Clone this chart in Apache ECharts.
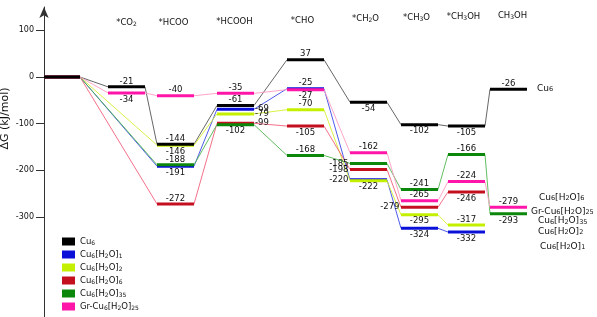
<!DOCTYPE html>
<html><head><meta charset="utf-8">
<script src="https://cdn.jsdelivr.net/npm/echarts@6/dist/echarts.min.js"></script>
<style>html,body{margin:0;padding:0;background:#fff}#c{width:597px;height:317px}</style>
</head><body><div id="c"></div>
<script>
// ---------- data ----------
const stepNames = ['', '*CO2', '*HCOO', '*HCOOH', '*CHO', '*CH2O', '*CH3O', '*CH3OH', 'CH3OH'];
const seriesNames = ['Cu6', 'Cu6[H2O]1', 'Cu6[H2O]2', 'Cu6[H2O]6', 'Cu6[H2O]35', 'Gr-Cu6[H2O]25'];
const cu6        = [0, -21, -144, -61,  37,  -54, -102, -105,  -26];
const cu6H2O1    = [0, null, -191, -69, -25, -220, -324, -332, null];
const cu6H2O2    = [0, null, -146, -79, -70, -222, -295, -317, null];
const cu6H2O6    = [0, null, -272, -99, -105, -198, -279, -246, null];
const cu6H2O35   = [0, null, -188, -102, -168, -185, -241, -166, -293];
const grCu6H2O25 = [0, -34, -40, -35, -27, -162, -265, -224, -279];
const yTickValues = [100, 0, -100, -200, -300];
const values = [cu6, cu6H2O1, cu6H2O2, cu6H2O6, cu6H2O35, grCu6H2O25];

// ---------- layout / style ----------
const FONT = 'DejaVu Sans';
const stepStart = [0, 64, 113, 173, 243, 306, 357, 404, 446];
const stepLen   = [36, 37, 37, 37, 37, 37, 37, 37, 37];
const titleY  = [0, 23, 23, 22, 21, 19, 18, 17, 16];
const titleDx = [0, 0, -2, -1, -3, -3, -3, -3, 4];
const barColors  = ['#000000', '#0a10d8', '#c4f000', '#c40f1e', '#0b880b', '#ff16a8'];
const linkColors = ['#555555', '#3a48e8', '#d6ef30', '#f2607c', '#4fb54f', '#ff9cc2'];
const labelPos = [
  ['', 't', 't', 't', 't', 'b', 'b', 'b', 't'],
  ['', '',  'b', 'r', 't', 'l', 'b', 'b', ''],
  ['', '',  'b', 'r', 't', 'b', 'b', 't', ''],
  ['', '',  't', 'r', 'b', 'l', 'l', 'b', ''],
  ['', '',  't', 'b', 't', 'l', 't', 't', 'b'],
  ['', 'b', 't', 't', 'b', 't', 't', 't', 't']
];
const rightLabels = [
  [0, 537, 88.5], [3, 539, 197.5], [5, 531, 211.7], [4, 538, 221], [2, 538, 231.7], [1, 540, 246.7]
];

function sub(s) { return s.replace(/([A-Za-z\]])(\d+)/g, '$1{s|$2}'); }
function richFor(fs, sfs) {
  return { s: { fontSize: sfs, fontFamily: FONT, fill: '#111', color: '#111', verticalAlign: 'bottom', lineHeight: Math.round(fs * 0.55) } };
}

const chart = echarts.init(document.getElementById('c'), null, { renderer: 'canvas' });
const series = [];

values.forEach((vals, si) => {
  const pts = [];
  vals.forEach((v, i) => { if (v !== null) { pts.push([stepStart[i], v]); pts.push([stepStart[i] + stepLen[i], v]); } });
  series.push({
    type: 'line', name: 'link' + si, data: pts, symbol: 'none', silent: true, z: 2,
    lineStyle: { color: linkColors[si], width: 0.9 }
  });
});

values.forEach((vals, si) => {
  const data = [];
  vals.forEach((v, i) => { if (v !== null) data.push([stepStart[i], v, i]); });
  series.push({
    type: 'custom', name: seriesNames[si], z: si === 0 ? 6 : 5, silent: true,
    itemStyle: { color: barColors[si] },
    encode: { x: 0, y: 1 },
    data,
    renderItem(params, api) {
      const i = api.value(2), v = api.value(1);
      const p0 = api.coord([stepStart[i], v]);
      const p1 = api.coord([stepStart[i] + stepLen[i], v]);
      const children = [{ type: 'rect', shape: { x: p0[0], y: p0[1] - 1.5, width: p1[0] - p0[0], height: 3 }, style: { fill: barColors[si] } }];
      const pos = labelPos[si][i];
      if (pos) {
        let x = (p0[0] + p1[0]) / 2, y = p0[1], align = 'center', va = 'middle';
        if (pos === 't') { y = p0[1] - 1; va = 'bottom'; }
        else if (pos === 'b') { y = p0[1] + 2; va = 'top'; }
        else if (pos === 'l') { x = p0[0] - 1.5; align = 'right'; }
        else if (pos === 'r') { x = p1[0] + 1; align = 'left'; }
        children.push({ type: 'text', x, y, style: { text: String(v), fontSize: 8.5, fontFamily: FONT, fill: '#111', align, verticalAlign: va } });
      }
      return { type: 'group', children };
    }
  });
});

series.push({
  type: 'custom', name: 'titles', silent: true, z: 7,
  data: stepNames.map((n, i) => [stepStart[i], 0, i]).filter(d => d[2] > 0),
  encode: { x: 0, y: 1 },
  renderItem(params, api) {
    const i = api.value(2);
    const p = api.coord([stepStart[i] + stepLen[i] / 2, 0]);
    return { type: 'text', x: p[0] + titleDx[i], y: titleY[i], style: {
      text: sub(stepNames[i]), fontSize: 8.5, fontFamily: FONT, fill: '#111', align: 'center', verticalAlign: 'middle', rich: richFor(8.5, 6)
    } };
  }
});

const graphic = [{
  type: 'text', x: 5.5, y: 118.5, rotation: Math.PI / 2,
  style: { text: 'ΔG (kJ/mol)', fontSize: 11, fontFamily: FONT, fill: '#111', align: 'center', verticalAlign: 'middle' }
}];
rightLabels.forEach(([si, x, y]) => {
  graphic.push({ type: 'text', x, y, style: { text: sub(seriesNames[si]), fontSize: 9, fontFamily: FONT, fill: '#111', align: 'left', verticalAlign: 'middle', rich: richFor(9, 6.5) } });
});

chart.setOption({
  animation: false,
  backgroundColor: '#ffffff',
  grid: { left: 44, right: 0, top: 7, bottom: 0, containLabel: false },
  xAxis: { type: 'value', min: 0, max: 553, show: false },
  yAxis: {
    type: 'value', min: -514, max: 150,
    axisLine: { show: true, lineStyle: { color: '#333', width: 1 }, symbol: ['none', 'arrow'], symbolSize: [7, 11] },
    axisTick: { show: true, length: 8, lineStyle: { color: '#333', width: 1 }, customValues: yTickValues },
    axisLabel: { customValues: yTickValues, fontSize: 8, fontFamily: FONT, color: '#111', margin: 10 },
    splitLine: { show: false }
  },
  legend: {
    orient: 'vertical', left: 62, top: 237, padding: 0, height: 80, itemWidth: 13, itemHeight: 8, itemGap: 4,
    icon: 'rect', data: seriesNames, selectedMode: false,
    formatter: n => sub(n),
    textStyle: { fontSize: 8.5, fontFamily: FONT, color: '#111', rich: { s: { fontSize: 6, fontFamily: FONT, color: '#111', verticalAlign: 'bottom', lineHeight: 4 } } }
  },
  graphic,
  series
});
</script></body></html>
